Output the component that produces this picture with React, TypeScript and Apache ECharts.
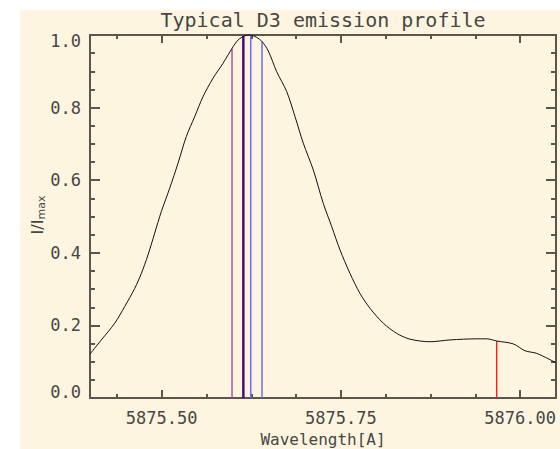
import React, { useEffect, useRef } from "react";
import * as echarts from "echarts";

// Profile data (wavelength in Å, normalized intensity)
const wavelengths = [
  5875.4, 5875.4158, 5875.4345, 5875.4484, 5875.4624, 5875.4716, 5875.4809, 5875.4902,
  5875.4994, 5875.5112, 5875.5228, 5875.5343, 5875.546, 5875.5576, 5875.5716, 5875.5855,
  5875.5981, 5875.6064, 5875.6158, 5875.6228, 5875.632, 5875.6399, 5875.6487, 5875.6604,
  5875.6744, 5875.686, 5875.6975, 5875.7115, 5875.7254, 5875.7372, 5875.7487, 5875.7627,
  5875.7766, 5875.7906, 5875.8091, 5875.8278, 5875.8464, 5875.8743, 5875.9022, 5875.9394,
  5875.9534, 5875.9673, 5875.9905, 5876.0068, 5876.0231, 5876.05,
];
const intensity = [
  0.121, 0.16, 0.206, 0.252, 0.302, 0.343, 0.394, 0.454,
  0.513, 0.578, 0.647, 0.72, 0.775, 0.83, 0.881, 0.922,
  0.963, 0.986, 0.998, 1.0, 0.994, 0.982, 0.956, 0.899,
  0.844, 0.775, 0.702, 0.628, 0.536, 0.472, 0.408, 0.343,
  0.288, 0.247, 0.206, 0.178, 0.162, 0.155, 0.16, 0.163,
  0.163, 0.157, 0.149, 0.13, 0.123, 0.097,
];

// Vertical marker lines
const markerWavelengths = [5875.5981, 5875.6139, 5875.6242, 5875.6399, 5875.9673];
const markerHeights = [0.963, 0.997, 1.0, 0.982, 0.157];
const markerColors = ["#a43aa4", "#4e0a78", "#6b6bff", "#6b6bf2", "#ff1010"];
const markerWidths = [1.3, 2.5, 1.5, 1.5, 1.3];

// Axis ticks
const xMin = 5875.4;
const xMax = 5876.05;
const xMajorTicks = [5875.5, 5875.75, 5876.0];
const xMinorTicks = [5875.4375, 5875.5625, 5875.625, 5875.6875, 5875.8125, 5875.875, 5875.9375];

const titleText = "Typical D3 emission profile";
const xLabelText = "Wavelength[A]";

const axisColor = "#5a554e";
const textColor = "#474747";
const font = "DejaVu Sans Mono";
const sansFont = "DejaVu Sans";

export default function App() {
  const ref = useRef<HTMLDivElement>(null);

  useEffect(() => {
    if (!ref.current) return;
    const chart = echarts.init(ref.current, null, { renderer: "svg" });

    const lineStyle = { color: axisColor, width: 2 };
    const baseX = {
      type: "value",
      min: xMin,
      max: xMax,
      splitLine: { show: false },
    };
    const xAxes = [
      {
        ...baseX,
        position: "bottom",
        axisLine: { show: true, lineStyle },
        axisTick: { show: true, inside: true, length: 8, customValues: xMajorTicks, lineStyle },
        axisLabel: {
          show: true,
          customValues: xMajorTicks,
          formatter: (v: number) => v.toFixed(2),
          margin: 11,
          fontSize: 17,
          fontFamily: font,
          color: textColor,
        },
      },
      {
        ...baseX,
        position: "bottom",
        axisLine: { show: false },
        axisTick: { show: true, inside: true, length: 4, customValues: xMinorTicks, lineStyle },
        axisLabel: { show: false },
      },
      {
        ...baseX,
        position: "top",
        axisLine: { show: true, lineStyle },
        axisTick: { show: true, inside: true, length: 8, customValues: xMajorTicks, lineStyle },
        axisLabel: { show: false },
      },
      {
        ...baseX,
        position: "top",
        axisLine: { show: false },
        axisTick: { show: true, inside: true, length: 4, customValues: xMinorTicks, lineStyle },
        axisLabel: { show: false },
      },
    ];
    const baseY = {
      type: "value",
      min: 0,
      max: 1,
      interval: 0.2,
      splitLine: { show: false },
      axisLine: { show: true, lineStyle },
      axisTick: { show: true, inside: true, length: 10, lineStyle },
      minorTick: { show: true, splitNumber: 4, length: 5, lineStyle },
    };
    const yAxes = [
      {
        ...baseY,
        position: "left",
        axisLabel: {
          show: true,
          formatter: (v: number) => {
            const s = v.toFixed(1);
            if (v >= 0.999) return "{lo|" + s + "}";
            if (v <= 0.001) return "{hi|" + s + "}";
            return s;
          },
          margin: 9,
          fontSize: 17,
          fontFamily: font,
          color: textColor,
          rich: {
            lo: { fontSize: 17, fontFamily: font, color: textColor, padding: [12, 0, 0, 0] },
            hi: { fontSize: 17, fontFamily: font, color: textColor, padding: [0, 0, 12, 0] },
          },
        },
      },
      { ...baseY, position: "right", axisLabel: { show: false } },
    ];

    const markerSeries = markerWavelengths.map((w, i) => ({
      type: "line",
      xAxisIndex: 0,
      yAxisIndex: 0,
      data: [
        [w, 0],
        [w, markerHeights[i]],
      ],
      symbol: "none",
      silent: true,
      lineStyle: { color: markerColors[i], width: markerWidths[i] },
      z: 3,
    }));

    chart.setOption({
      animation: false,
      backgroundColor: "#ffffff",
      grid: { left: 90, top: 35, right: 4, bottom: 51, containLabel: false },
      xAxis: xAxes,
      yAxis: yAxes,
      graphic: [
        {
          type: "rect",
          z: -100,
          silent: true,
          shape: { x: 20, y: 10, width: 540, height: 439 },
          style: { fill: "#fdf5df" },
        },
        {
          type: "text",
          x: 323,
          y: 20,
          style: {
            text: titleText,
            fontSize: 20,
            fontFamily: font,
            fill: textColor,
            align: "center",
            verticalAlign: "middle",
          },
        },
        {
          type: "text",
          x: 323,
          y: 439,
          style: {
            text: xLabelText,
            fontSize: 16,
            fontFamily: font,
            fill: textColor,
            align: "center",
            verticalAlign: "middle",
          },
        },
        {
          type: "text",
          x: 37,
          y: 215,
          rotation: Math.PI / 2,
          style: {
            text: "I/I{m|max}",
            fontSize: 16,
            fontFamily: sansFont,
            fill: textColor,
            align: "center",
            verticalAlign: "middle",
            rich: {
              m: { fontSize: 11, fontFamily: sansFont, fill: textColor, padding: [9, 0, 0, 0] },
            },
          },
        },
      ],
      series: [
        {
          type: "line",
          xAxisIndex: 0,
          yAxisIndex: 0,
          data: wavelengths.map((w, i) => [w, intensity[i]]),
          symbol: "none",
          smooth: 0.3,
          silent: true,
          lineStyle: { color: "#111111", width: 1 },
          z: 4,
        },
        ...markerSeries,
      ],
    });

    return () => chart.dispose();
  }, []);

  return (
    <div
      ref={ref}
      style={{ position: "fixed", left: 0, top: 0, width: 560, height: 449 }}
    />
  );
}
